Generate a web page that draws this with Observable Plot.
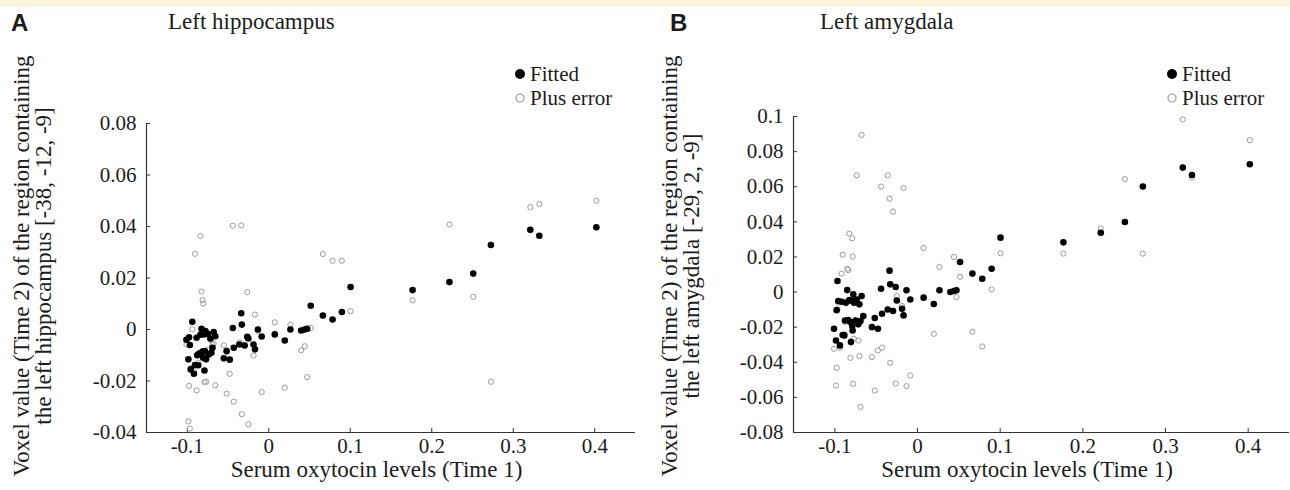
<!DOCTYPE html>
<html>
<head>
<meta charset="utf-8">
<script src="https://cdn.jsdelivr.net/npm/d3@7"></script>
<script src="https://cdn.jsdelivr.net/npm/@observablehq/plot@0.6"></script>
<style>
  body { margin: 0; background: #ffffff; }
  #wrap { position: relative; width: 1290px; height: 490px; background: #ffffff; overflow: hidden; }
  #band { position: absolute; left: 0; top: 0; width: 1290px; height: 7px; background: #fcf5dd; }
  .panel { position: absolute; top: 0; }
  .panel svg, .panel svg text { font-family: 'Liberation Serif', 'Times New Roman', serif !important; }
  .panel svg text.letter { font-family: 'Liberation Sans', Arial, sans-serif !important; font-weight: bold; }
</style>
</head>
<body>
<div id="wrap">
  <div id="band"></div>
  <div id="panelA" class="panel" style="left:0px"></div>
  <div id="panelB" class="panel" style="left:645px"></div>
</div>
<script>
// ---- Data ----
// Serum oxytocin levels (Time 1), shared by both panels (one value per subject)
const oxytocin = [
  -0.1010, -0.0986, -0.0978, -0.0968, -0.0958, -0.0938, -0.0918, -0.0905, -0.0885, -0.0877,
  -0.0865, -0.0850, -0.0838, -0.0825, -0.0812, -0.0805, -0.0797, -0.0789, -0.0785, -0.0777,
  -0.0769, -0.0749, -0.0736, -0.0716, -0.0704, -0.0690, -0.0676, -0.0656,
  -0.0551, -0.0517, -0.0479, -0.0441, -0.0429, -0.0360, -0.0338, -0.0330, -0.0296, -0.0264,
  -0.0250, -0.0187, -0.0169, -0.0133, -0.0087, 0.0074, 0.0197, 0.0266, 0.0398, 0.0441,
  0.0471, 0.0515, 0.0664, 0.0783, 0.0897, 0.1004,
  0.1765, 0.2217, 0.2509, 0.2726, 0.3209, 0.3320, 0.4020
];
// Left hippocampus [-38, -12, -9]
const hippFitted = [
  -0.0040, -0.0116, -0.0030, -0.0060, -0.0155, 0.0030, -0.0172, -0.0138, -0.0032, -0.0100,
  -0.0139, -0.0093, -0.0020, 0.0003, -0.0086, -0.0110, -0.0019, -0.0159, -0.0084, -0.0006,
  -0.0116, -0.0017, -0.0097, -0.0035, -0.0090, -0.0071, -0.0010, -0.0026,
  -0.0112, -0.0084, -0.0117, 0.0006, -0.0071, -0.0058, 0.0063, 0.0019, -0.0062, -0.0028,
  -0.0035, -0.0058, -0.0077, 0.0000, -0.0027, -0.0019, -0.0043, 0.0000, -0.0004, 0.0000,
  0.0003, 0.0092, 0.0054, 0.0039, 0.0068, 0.0165,
  0.0153, 0.0184, 0.0217, 0.0328, 0.0387, 0.0364, 0.0397
];
const hippPlusError = [
  -0.0058, -0.0357, -0.0219, -0.0385, -0.0150, 0.0001, -0.0160, 0.0294, -0.0236, -0.0095,
  -0.0130, -0.0090, 0.0363, 0.0147, 0.0114, 0.0101, -0.0015, -0.0204, -0.0086, -0.0010,
  -0.0203, -0.0020, -0.0077, -0.0040, -0.0085, -0.0060, -0.0055, -0.0217,
  -0.0062, -0.0249, -0.0172, 0.0403, -0.0280, -0.0050, 0.0404, -0.0329, -0.0060, 0.0145,
  -0.0368, -0.0101, 0.0058, -0.0005, -0.0243, 0.0028, -0.0226, 0.0019, -0.0081, -0.0065,
  -0.0185, 0.0006, 0.0293, 0.0267, 0.0267, 0.0071,
  0.0113, 0.0408, 0.0127, -0.0203, 0.0475, 0.0487, 0.0500
];
// Left amygdala [-29, 2, -9]
const amygFitted = [
  -0.0209, -0.0276, -0.0103, 0.0063, -0.0051, -0.0304, -0.0055, -0.0245, -0.0247, -0.0162,
  -0.0060, 0.0011, -0.0160, -0.0046, -0.0171, -0.0285, -0.0049, -0.0194, -0.0219, -0.0013,
  -0.0061, -0.0162, -0.0042, -0.0184, -0.0070, -0.0165, -0.0023, -0.0137,
  -0.0200, -0.0148, -0.0209, 0.0019, -0.0124, -0.0099, 0.0122, 0.0044, -0.0108, 0.0029,
  -0.0048, -0.0095, -0.0133, 0.0010, -0.0042, -0.0032, -0.0068, 0.0010, 0.0000, 0.0006,
  0.0010, 0.0171, 0.0105, 0.0076, 0.0133, 0.0310,
  0.0283, 0.0338, 0.0399, 0.0601, 0.0709, 0.0667, 0.0728
];
const amygPlusError = [
  -0.0323, -0.0532, -0.0432, -0.0100, -0.0060, -0.0317, 0.0105, 0.0213, -0.0240, -0.0170,
  -0.0065, 0.0133, 0.0125, 0.0333, -0.0375, -0.0280, -0.0050, 0.0306, 0.0202, -0.0523,
  -0.0266, -0.0160, 0.0665, -0.0276, -0.0365, -0.0654, 0.0895, -0.0140,
  -0.0371, -0.0561, -0.0333, 0.0601, -0.0317, 0.0665, 0.0532, -0.0403, 0.0458, -0.0521,
  -0.0023, -0.0080, 0.0593, -0.0536, -0.0475, 0.0251, -0.0238, 0.0143, 0.0000, 0.0200,
  -0.0029, 0.0087, -0.0226, -0.0310, 0.0015, 0.0221,
  0.0219, 0.0363, 0.0643, 0.0219, 0.0983, 0.0652, 0.0865
];
// Axes
const xTicks = [-0.1, 0, 0.1, 0.2, 0.3, 0.4];
const xDomain = [-0.15, 0.45];
const hippYTicks = [-0.04, -0.02, 0, 0.02, 0.04, 0.06, 0.08];
const hippYDomain = [-0.04, 0.08];
const amygYTicks = [-0.08, -0.06, -0.04, -0.02, 0, 0.02, 0.04, 0.06, 0.08, 0.1];
const amygYDomain = [-0.08, 0.1];
const xLabel = "Serum oxytocin levels (Time 1)";
const legendLabels = ["Fitted", "Plus error"];

const SERIF = "'Liberation Serif', 'Times New Roman', serif";
const INK = "#1c1c1c";
const GREY = "#9c9c9c";

function fmt(d) { return d === 0 ? "0" : String(d); }

function makePanel(cfg) {
  const W = 645, H = 490;
  const mt = cfg.marginTop, mb = 58, ml = cfg.marginLeft, mr = cfg.marginRight;
  const fw = W - ml - mr, fh = H - mt - mb;
  const rows = oxytocin.map((x, i) => ({x, fit: cfg.fitted[i], err: cfg.plusError[i]}));
  const svg = Plot.plot({
    width: W, height: H,
    marginTop: mt, marginBottom: mb, marginLeft: ml, marginRight: mr,
    style: {fontFamily: SERIF, fontSize: "21px", color: INK, background: "transparent", overflow: "visible"},
    x: {domain: xDomain, ticks: xTicks, tickSize: 0, tickPadding: 6, tickFormat: fmt, label: null},
    y: {domain: cfg.yDomain, ticks: cfg.yTicks, tickSize: 0, tickPadding: 10, tickFormat: fmt, label: null},
    marks: [
      Plot.ruleX([xDomain[0]], {stroke: "#333", strokeWidth: 1.2}),
      Plot.ruleY([cfg.yDomain[0]], {stroke: "#333", strokeWidth: 1.2}),
      Plot.tickX(xTicks, {x: d => d, insetTop: fh - 4, stroke: "#333"}),
      Plot.tickY(cfg.yTicks, {y: d => d, insetRight: fw - 4, stroke: "#333"}),
      Plot.dot(rows, {x: "x", y: "err", r: 2.6, stroke: GREY, strokeWidth: 1, fill: "none"}),
      Plot.dot(rows, {x: "x", y: "fit", r: 3.3, fill: "#000", stroke: "none"})
    ]
  });
  const g = d3.select(svg).append("g").attr("fill", INK).attr("text-anchor", "start");
  g.append("text").attr("class", "letter").text(cfg.letter)
    .attr("x", cfg.letterX).attr("y", 31).attr("text-anchor", "start")
    .style("font-size", "24px");
  g.append("text").text(cfg.title)
    .attr("x", cfg.titleX).attr("y", 29).attr("text-anchor", "start").style("font-size", "23px");
  cfg.yLabel.forEach((line, i) => {
    g.append("text").text(line)
      .attr("transform", `translate(${cfg.yLabelX + i * 22},266) rotate(-90)`)
      .attr("text-anchor", "middle").attr("dy", "0.35em")
      .style("font-size", "23px");
  });
  g.append("text").text(xLabel)
    .attr("x", ml + fw / 2 - 14).attr("y", 477)
    .attr("text-anchor", "middle").style("font-size", "23px");
  // legend
  const lg = g.append("g").attr("transform", `translate(${cfg.legendX},0)`);
  lg.append("circle").attr("cx", 0).attr("cy", 74).attr("r", 5).attr("fill", "#000");
  lg.append("text").text(legendLabels[0]).attr("x", 10).attr("y", 74).attr("dy", "0.35em")
    .attr("text-anchor", "start").style("font-size", "21px");
  lg.append("circle").attr("cx", 0).attr("cy", 98).attr("r", 4).attr("fill", "none").attr("stroke", GREY).attr("stroke-width", 1.2);
  lg.append("text").text(legendLabels[1]).attr("x", 10).attr("y", 98).attr("dy", "0.35em")
    .attr("text-anchor", "start").style("font-size", "21px");
  document.getElementById(cfg.target).appendChild(svg);
}

makePanel({
  target: "panelA", letter: "A", letterX: 11, title: "Left hippocampus", titleX: 168,
  marginTop: 123, marginLeft: 146, marginRight: 10,
  yDomain: hippYDomain, yTicks: hippYTicks,
  fitted: hippFitted, plusError: hippPlusError,
  yLabel: ["Voxel value (Time 2) of the region containing", "the left hippocampus [-38, -12, -9]"],
  yLabelX: 21, legendX: 520
});
makePanel({
  target: "panelB", letter: "B", letterX: 25, title: "Left amygdala", titleX: 175,
  marginTop: 116, marginLeft: 148, marginRight: 1,
  yDomain: amygYDomain, yTicks: amygYTicks,
  fitted: amygFitted, plusError: amygPlusError,
  yLabel: ["Voxel value (Time 2) of the region containing", "the left amygdala [-29, 2, -9]"],
  yLabelX: 24, legendX: 527
});
</script>
</body>
</html>
